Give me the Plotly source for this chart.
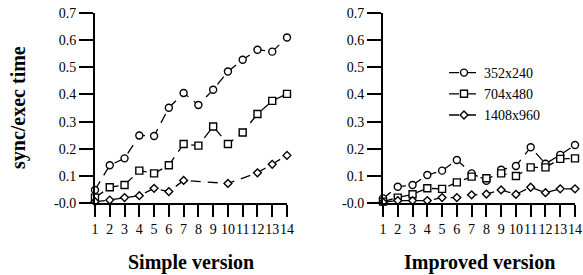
import plotly.graph_objects as go

x_all = list(range(1, 15))

# Simple version
simple_352 = [0.049, 0.14, 0.165, 0.249, 0.247, 0.351, 0.405, 0.361, 0.417, 0.484, 0.527, 0.564, 0.557, 0.609]
simple_704 = [0.021, 0.059, 0.067, 0.12, 0.11, 0.14, 0.218, 0.212, 0.282, 0.218, 0.26, 0.328, 0.376, 0.402]
simple_1408_x = [1, 2, 3, 4, 5, 6, 7, 10, 12, 13, 14]
simple_1408 = [0.006, 0.012, 0.021, 0.028, 0.055, 0.043, 0.084, 0.073, 0.112, 0.143, 0.176]

# Improved version
improved_352 = [0.018, 0.061, 0.067, 0.104, 0.12, 0.159, 0.11, 0.083, 0.123, 0.137, 0.206, 0.145, 0.178, 0.214]
improved_704 = [0.006, 0.021, 0.033, 0.055, 0.053, 0.077, 0.098, 0.092, 0.11, 0.1, 0.132, 0.132, 0.163, 0.165]
improved_1408 = [0.004, 0.01, 0.01, 0.01, 0.021, 0.021, 0.031, 0.034, 0.049, 0.033, 0.059, 0.039, 0.053, 0.053]

series_names = ["352x240", "704x480", "1408x960"]
y_ticks = [0, 0.1, 0.2, 0.3, 0.4, 0.5, 0.6, 0.7]
y_ticktext = ["-0.0", "0.1", "0.2", "0.3", "0.4", "0.5", "0.6", "0.7"]
x_ticktext = [str(v) for v in x_all]

FONT = "Liberation Serif"
DASH = "10px,7px"
symbols = ["circle", "square", "diamond"]
sizes = [7, 7, 6]

fig = go.Figure()

panels = [
    ("x", "y", [(x_all, simple_352), (x_all, simple_704), (simple_1408_x, simple_1408)], False),
    ("x2", "y2", [(x_all, improved_352), (x_all, improved_704), (x_all, improved_1408)], True),
]

for xa, ya, data, show in panels:
    for i, (xs, ys) in enumerate(data):
        fig.add_trace(go.Scatter(
            x=xs, y=ys, xaxis=xa, yaxis=ya,
            mode="lines+markers",
            name=series_names[i],
            showlegend=show,
            cliponaxis=False,
            line=dict(color="black", width=1.3, dash=DASH),
            marker=dict(symbol=symbols[i], size=sizes[i], color="white",
                        line=dict(color="black", width=1.4)),
        ))

ydom = [(275 - 203.3) / 275, (275 - 12.7) / 275]
common_x = dict(range=[1, 14], tickvals=x_all, ticktext=x_ticktext, showline=True,
                linecolor="black", linewidth=2, ticks="outside", ticklen=12, tickwidth=2,
                tickcolor="black", showgrid=False, zeroline=False, tickangle=0,
                automargin=False,
                tickfont=dict(family=FONT, size=14, color="black"))
common_y = dict(range=[0, 0.7], tickvals=y_ticks, ticktext=y_ticktext, showline=True,
                linecolor="black", linewidth=2, ticks="outside", ticklen=14, tickwidth=2,
                tickcolor="black", showgrid=False, zeroline=False, domain=ydom,
                automargin=False,
                tickfont=dict(family=FONT, size=14, color="black"))

fig.update_layout(
    width=583, height=275,
    margin=dict(l=0, r=0, t=0, b=0, autoexpand=False),
    paper_bgcolor="white", plot_bgcolor="white",
    font=dict(family=FONT, color="black"),
    xaxis=dict(common_x, domain=[95 / 583, 287 / 583], anchor="y"),
    yaxis=dict(common_y, anchor="x"),
    xaxis2=dict(common_x, domain=[383 / 583, 575 / 583], anchor="y2"),
    yaxis2=dict(common_y, anchor="x2"),
    legend=dict(x=444 / 583, y=1 - 57 / 275, xanchor="left", yanchor="top",
                bgcolor="rgba(0,0,0,0)", font=dict(family=FONT, size=14, color="black"),
                tracegroupgap=0, itemclick=False),
    annotations=[
        dict(text="<b>sync/exec time</b>", x=18 / 583, y=1 - 108 / 275, xref="paper", yref="paper",
             xanchor="center", yanchor="middle",
             textangle=-90, showarrow=False, font=dict(family=FONT, size=20, color="black")),
        dict(text="<b>Simple version</b>", x=191 / 583, y=1 - 262 / 275, xref="paper", yref="paper",
             xanchor="center", yanchor="middle",
             showarrow=False, font=dict(family=FONT, size=20, color="black")),
        dict(text="<b>Improved version</b>", x=479 / 583, y=1 - 262 / 275, xref="paper", yref="paper",
             xanchor="center", yanchor="middle",
             showarrow=False, font=dict(family=FONT, size=20, color="black")),
    ],
)

fig.write_html("out.html", config={"displayModeBar": False},
               post_script="document.body.style.margin='0px';")
